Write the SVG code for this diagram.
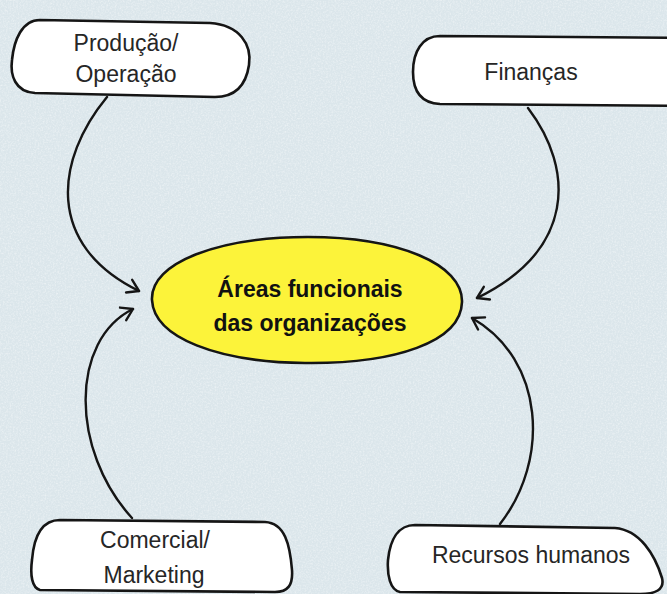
<svg xmlns="http://www.w3.org/2000/svg" width="667" height="594" viewBox="0 0 667 594">
  <defs>
    <style>
      .box { fill: #ffffff; stroke: #151515; stroke-width: 2.6; stroke-linejoin: round; }
      .core { fill: #fcf33a; stroke: #151515; stroke-width: 2.6; }
      .lbl { font-family: "Liberation Sans", Arial, sans-serif; font-size: 23px; fill: #262626; text-anchor: middle; }
      .bold { font-weight: bold; fill: #111111; }
      .conn { fill: none; stroke: #151515; stroke-width: 2.4; stroke-linecap: round; }
    </style>
    <marker id="arrow" markerUnits="userSpaceOnUse" markerWidth="20" markerHeight="20" refX="0" refY="0" viewBox="-12 -10 14 20" orient="auto">
      <path d="M -11 -7 L 0 0 L -11 7" fill="none" stroke="#151515" stroke-width="2.4" stroke-linecap="round" stroke-linejoin="round"/>
    </marker>
    <filter id="tex" x="0" y="0" width="100%" height="100%">
      <feTurbulence type="fractalNoise" baseFrequency="0.6" numOctaves="3" seed="4" result="n"/>
      <feColorMatrix type="matrix" values="0 0 0 0 1  0 0 0 0 1  0 0 0 0 1  0 0 0 -1.6 0.95" />
    </filter>
  </defs>
  <rect x="0" y="0" width="667" height="594" fill="#dbe6eb"/>
  <rect x="0" y="0" width="667" height="594" filter="url(#tex)" opacity="0.55"/>

  <g id="connectors">
    <path class="conn" d="M 107 97 C 55 160, 45 245, 139 291" marker-end="url(#arrow)"/>
    <path class="conn" d="M 528 108 C 575 170, 575 250, 477 298" marker-end="url(#arrow)"/>
    <path class="conn" d="M 132 518 C 70 450, 70 340, 133 309" marker-end="url(#arrow)"/>
    <path class="conn" d="M 500 524 C 550 460, 545 360, 472 318" marker-end="url(#arrow)"/>
  </g>

  <g id="producao">
    <path class="box" d="M 40 20 L 210 23 C 240 25 252 45 249 65 C 246 85 235 97 215 97 L 35 93 C 15 92 10 75 12 60 C 14 40 22 20 40 20 Z"/>
    <text class="lbl" x="126" y="51">Produção/</text>
    <text class="lbl" x="126" y="82">Operação</text>
  </g>

  <g id="financas">
    <path class="box" d="M 440 36 L 690 38 L 690 106 L 440 104 C 420 103 413 90 413 72 C 413 52 422 36 440 36 Z"/>
    <text class="lbl" x="531" y="80">Finanças</text>
  </g>

  <g id="areas">
    <path class="core" d="M 152 300 C 150 262 220 237 308 237 C 398 237 463 264 462 302 C 461 342 395 364 305 363 C 218 362 154 338 152 300 Z"/>
    <text class="lbl bold" x="310" y="297">Áreas funcionais</text>
    <text class="lbl bold" x="310" y="331">das organizações</text>
  </g>

  <g id="comercial">
    <path class="box" d="M 60 520 L 265 522 C 285 523 290 545 292 570 C 293 585 288 592 275 592 L 40 590 C 32 588 30 575 32 560 C 34 535 42 520 60 520 Z"/>
    <text class="lbl" x="155" y="548">Comercial/</text>
    <text class="lbl" x="154" y="583">Marketing</text>
  </g>

  <g id="recursos">
    <path class="box" d="M 415 525 L 615 528 C 640 530 655 555 662 578 C 665 590 655 594 640 594 L 400 592 C 390 590 387 575 388 560 C 390 540 398 525 415 525 Z"/>
    <text class="lbl" x="531" y="563">Recursos humanos</text>
  </g>
</svg>
